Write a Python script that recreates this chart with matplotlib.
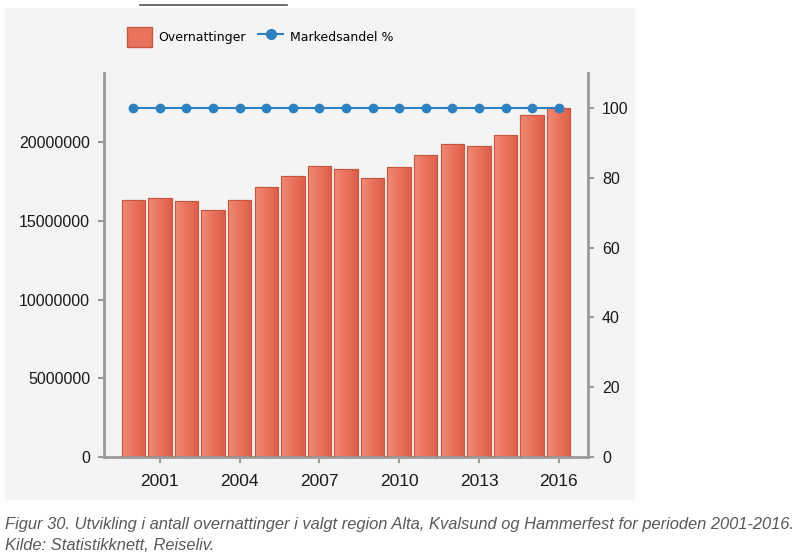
import matplotlib
matplotlib.use('Agg')
import matplotlib.pyplot as plt
import numpy as np
from matplotlib.colors import LinearSegmentedColormap
from matplotlib.lines import Line2D
from matplotlib.patches import Patch, Rectangle

years = np.arange(2000, 2017)
overnattinger = [16350000, 16470000, 16240000, 15690000, 16350000, 17170000,
                 17840000, 18520000, 18300000, 17730000, 18410000, 19200000,
                 19900000, 19790000, 20470000, 21700000, 22170000]
markedsandel = [100] * 17
year_ticks = [2001, 2004, 2007, 2010, 2013, 2016]
left_ticks = [0, 5000000, 10000000, 15000000, 20000000]
right_ticks = [0, 20, 40, 60, 80, 100]

W, H = 798, 556
fig = plt.figure(figsize=(W / 100, H / 100), dpi=100)
fig.patch.set_facecolor('white')

# grey chart panel
fig.patches.append(Rectangle((5 / W, 1 - 500 / H), 630 / W, 492 / H,
                             transform=fig.transFigure, facecolor='#f4f4f4',
                             edgecolor='none', zorder=-5))
# stray border line at the top of the crop
fig.lines.append(Line2D([140 / W, 287 / W], [1 - 5 / H, 1 - 5 / H],
                        transform=fig.transFigure, color='#555555', lw=1.2))

ax = fig.add_axes([104 / W, 1 - 457 / H, 484 / W, 384 / H])
ax.set_facecolor('none')

bar_w = 0.88
cmap = LinearSegmentedColormap.from_list('bar', ['#f08a74', '#e9735c', '#dc5e48'])
grad = np.linspace(0, 1, 64).reshape(1, -1)
bars = ax.bar(years, overnattinger, width=bar_w, color='#e76f58',
              edgecolor='#c55843', linewidth=0.8, zorder=2)
for b in bars:
    im = ax.imshow(grad, cmap=cmap, aspect='auto', zorder=2.5,
                   extent=[b.get_x(), b.get_x() + b.get_width(), 0, b.get_height()])
    im.set_clip_path(b)
    ax.add_patch(Rectangle((b.get_x(), 0), b.get_width(), b.get_height(),
                           facecolor='none', edgecolor='#c55843', lw=0.8, zorder=3))

ax.set_xlim(1998.9, 2017.1)
ax.set_ylim(0, 24400000)
ax.set_xticks(year_ticks)
ax.set_xticklabels([str(y) for y in year_ticks])
ax.set_yticks(left_ticks)
ax.set_yticklabels([str(v) for v in left_ticks])

ax2 = ax.twinx()
ax2.plot(years, markedsandel, color='#2f80c0', lw=1.5, marker='o',
         markersize=6, zorder=5)
ax2.set_ylim(0, 110)
ax2.set_yticks(right_ticks)

spine_c = '#9a9a9a'
for a in (ax, ax2):
    for s in a.spines.values():
        s.set_visible(False)
    a.tick_params(colors=spine_c, labelcolor='#1a1a1a', labelsize=11.5,
                  length=4, width=1.5)
ax.spines['left'].set_visible(True)
ax.spines['bottom'].set_visible(True)
ax2.spines['right'].set_visible(True)
for s in (ax.spines['left'], ax.spines['bottom'], ax2.spines['right']):
    s.set_color(spine_c)
    s.set_linewidth(2)
ax.tick_params(axis='x', labelsize=12.5, pad=8)
ax.tick_params(axis='y', pad=6)
ax2.tick_params(axis='y', pad=6)
for t in ax.get_xticklabels() + ax.get_yticklabels() + ax2.get_yticklabels():
    t.set_family(['Liberation Sans', 'DejaVu Sans'])

handles = [Patch(facecolor='#e9735c', edgecolor='#c55843'),
           Line2D([], [], color='#2f80c0', lw=1.5, marker='o', markersize=7)]
fig.legend(handles, ['Overnattinger', 'Markedsandel %'], loc='center',
           bbox_to_anchor=(260 / W, 1 - 37 / H), ncol=2, frameon=False,
           handlelength=2.0, handleheight=2.0, columnspacing=1.0,
           handletextpad=0.5, prop={'family': ['DejaVu Sans'], 'size': 9})

cap_font = ['Liberation Sans Narrow', 'Liberation Sans']
fig.text(5 / W, 1 - 525 / H,
         'Figur 30. Utvikling i antall overnattinger i valgt region Alta, Kvalsund og Hammerfest for perioden 2001-2016.',
         fontsize=11.85, style='italic', color='#595959', va='center',
         family=cap_font)
fig.text(5 / W, 1 - 546 / H, 'Kilde: Statistikknett, Reiseliv.',
         fontsize=11.85, style='italic', color='#595959', va='center',
         family=cap_font)

fig.savefig('out.png', dpi=100, facecolor='white')
